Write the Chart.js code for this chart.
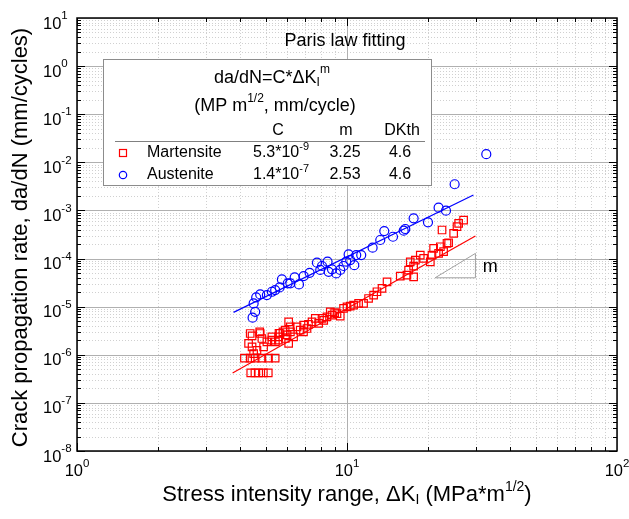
<!DOCTYPE html>
<html><head><meta charset="utf-8">
<script src="https://cdn.jsdelivr.net/npm/chart.js@4.4.0/dist/chart.umd.min.js"></script>
<style>html,body{margin:0;padding:0;background:#fff}</style>
</head><body>
<canvas id="c" width="629" height="519"></canvas>
<script>
// ---- data ----
const martensiteK = [4.40,4.56,4.71,4.90,5.11, 4.17,4.38,4.57,4.84,5.12,5.42,
  4.45,4.75,4.45,4.64,4.91,5.05,5.27,5.43,5.58,5.79,5.91,6.08,6.17,6.34,6.53,6.71,6.91,7.11,
  7.42,7.63,7.85,8.08,8.43,8.67,8.80,9.18,9.44,9.71,10.0,10.28,10.58,11.04,11.52,12.02,12.55,
  12.91,13.48,14.07,15.75,16.67,17.65,16.91,17.15,17.65,17.91,18.68,19.22,20.35,20.64,20.93,
  21.84,22.17,22.79,23.46,23.79,22.49,24.83,25.55,25.91,27.03, 4.32,4.51,4.84,5.6,6.0,6.9,7.2,8.2,9.0,
  4.38,4.77,5.27,5.57,5.65,5.90,6.16,6.08];
const martensiteRate = [4.2e-7,4.2e-7,4.2e-7,4.2e-7,4.2e-7, 8.5e-7,8.5e-7,8.5e-7,8.5e-7,8.5e-7,8.5e-7,
  2.47e-6,2.99e-6,1.46e-6,1.24e-6,1.46e-6,1.85e-6,2.36e-6,1.85e-6,2.36e-6,2.99e-6,2.18e-6,1.72e-6,2.99e-6,2.36e-6,3.80e-6,3.25e-6,4.13e-6,3.52e-6,
  4.83e-6,5.69e-6,4.48e-6,5.69e-6,6.15e-6,7.8e-6,6.67e-6,7.2e-6,6.35e-6,9.2e-6,9.9e-6,1.03e-5,1.08e-5,1.17e-5,1.17e-5,1.48e-5,1.74e-5,
  2.04e-5,2.40e-5,3.29e-5,4.32e-5,4.54e-5,4.18e-5,5.77e-5,8.57e-5,6.98e-5,9.3e-5,1.18e-4,1.01e-4,8.57e-5,1.18e-4,1.63e-4,
  1.28e-4,1.76e-4,1.39e-4,2.07e-4,2.13e-4,3.92e-4,3.35e-4,4.59e-4,5.4e-4,6.3e-4, 1.72e-6,1.06e-6,2.18e-6,2.8e-6,2.6e-6,3.0e-6,4.3e-6,5.2e-6,7.5e-6,
  2.77e-6,2.77e-6,2.02e-6,2.02e-6,2.77e-6,3.25e-6,3.8e-6,4.83e-6];
const austeniteK = [4.47,4.57,4.51,4.61,4.77,5.05,5.27,5.42,5.63,5.74,6.03,6.17,6.40,6.64,6.91,7.27,
  7.74,7.96,8.08,8.47,8.55,8.80,9.12,9.44,9.71,9.94,10.14,10.28,10.64,10.82,11.29,12.44,13.28,13.74,
  14.80,16.22,16.44,17.65,19.95,21.84,23.26,25.04,32.8];
const austeniteRate = [5.9e-6,7.8e-6,1.17e-5,1.56e-5,1.80e-5,1.74e-5,2.04e-5,2.21e-5,2.51e-5,3.69e-5,3.05e-5,3.05e-5,4.06e-5,2.90e-5,4.32e-5,5.06e-5,
  8.2e-5,5.8e-5,7.0e-5,8.6e-5,5.3e-5,5.96e-5,4.92e-5,5.8e-5,7.0e-5,8.6e-5,1.22e-4,9.3e-5,7.3e-5,1.18e-4,1.18e-4,1.68e-4,2.43e-4,3.73e-4,
  2.84e-4,3.79e-4,4.11e-4,6.87e-4,5.67e-4,1.14e-3,9.9e-4,3.5e-3,1.48e-2];
const martensiteFitK = [3.77, 29.9];
const martensiteFitRate = [4.2e-7, 2.94e-4];
const austeniteFitK = [3.80, 29.4];
const austeniteFitRate = [7.6e-6, 2.1e-3];
const slopeTriK = [21.2, 29.9, 29.9, 21.2];
const slopeTriRate = [3.98e-5, 3.98e-5, 1.28e-4, 3.98e-5];
const slopeLabelK = 33.9, slopeLabelRate = 6.75e-5;
const xTickExponents = [0, 1, 2];
const yTickExponents = [-8, -7, -6, -5, -4, -3, -2, -1, 0, 1];
const seriesNames = ['Martensite', 'Austenite'];
const fitC = [['5.3*10', '-9'], ['1.4*10', '-7']];
const fitM = ['3.25', '2.53'];
const fitDKth = ['4.6', '4.6'];

const FONT = '"Liberation Sans", Arial, sans-serif';
const RED = '#ff0000', BLUE = '#0000ff';
const zip = (a, b) => a.map((v, i) => ({x: v, y: b[i]}));

function drawRich(ctx, segs, x, y, align) {
  let w = 0;
  segs.forEach(s => { ctx.font = s[1] + 'px ' + FONT; w += ctx.measureText(s[0]).width; });
  let cx = align === 'center' ? x - w / 2 : (align === 'right' ? x - w : x);
  ctx.textAlign = 'left'; ctx.textBaseline = 'middle';
  segs.forEach(s => {
    ctx.font = s[1] + 'px ' + FONT;
    ctx.fillText(s[0], cx, y + (s[2] || 0));
    cx += ctx.measureText(s[0]).width;
  });
}

const decor = {
  id: 'decor',
  beforeDatasetsDraw(chart) {
    const ctx = chart.ctx, a = chart.chartArea, xs = chart.scales.x, ys = chart.scales.y;
    ctx.save();
    ctx.strokeStyle = '#d0d0d0'; ctx.lineWidth = 1; ctx.setLineDash([1, 2]);
    for (let e = 0; e < 2; e++) for (let k = 2; k <= 9; k++) {
      const px = Math.round(xs.getPixelForValue(k * Math.pow(10, e))) + 0.5;
      ctx.beginPath(); ctx.moveTo(px, a.top); ctx.lineTo(px, a.bottom); ctx.stroke();
    }
    for (let e = -8; e < 1; e++) for (let k = 2; k <= 9; k++) {
      const py = Math.round(ys.getPixelForValue(k * Math.pow(10, e))) + 0.5;
      ctx.beginPath(); ctx.moveTo(a.left, py); ctx.lineTo(a.right, py); ctx.stroke();
    }
    ctx.setLineDash([]); ctx.strokeStyle = '#b0b0b0';
    xTickExponents.forEach(e => {
      const px = Math.round(xs.getPixelForValue(Math.pow(10, e))) + 0.5;
      ctx.beginPath(); ctx.moveTo(px, a.top); ctx.lineTo(px, a.bottom); ctx.stroke();
    });
    yTickExponents.forEach(e => {
      const py = Math.round(ys.getPixelForValue(Math.pow(10, e))) + 0.5;
      ctx.beginPath(); ctx.moveTo(a.left, py); ctx.lineTo(a.right, py); ctx.stroke();
    });
    ctx.restore();
  },
  afterDatasetsDraw(chart) {
    const ctx = chart.ctx, a = chart.chartArea, xs = chart.scales.x, ys = chart.scales.y;
    ctx.save();
    ctx.strokeStyle = '#000'; ctx.lineWidth = 1.5;
    ctx.strokeRect(a.left, a.top, a.right - a.left, a.bottom - a.top);
    ctx.lineWidth = 1;
    const tick = (x1, y1, x2, y2) => { ctx.beginPath(); ctx.moveTo(x1, y1); ctx.lineTo(x2, y2); ctx.stroke(); };
    for (let e = 0; e < 2; e++) for (let k = 1; k <= 9; k++) {
      const px = Math.round(xs.getPixelForValue(k * Math.pow(10, e))) + 0.5;
      const L = k === 1 ? 8 : 4;
      tick(px, a.bottom, px, a.bottom - L); tick(px, a.top, px, a.top + L);
    }
    for (let e = -8; e < 1; e++) for (let k = 1; k <= 9; k++) {
      const py = Math.round(ys.getPixelForValue(k * Math.pow(10, e))) + 0.5;
      const L = k === 1 ? 8 : 4;
      tick(a.left, py, a.left + L, py); tick(a.right, py, a.right - L, py);
    }
    ctx.fillStyle = '#000';
    xTickExponents.forEach(e => {
      const px = xs.getPixelForValue(Math.pow(10, e));
      drawRich(ctx, [['10', 16.5, 0], [String(e), 11.5, -7]], px, a.bottom + 20, 'center');
    });
    yTickExponents.forEach(e => {
      const py = ys.getPixelForValue(Math.pow(10, e));
      drawRich(ctx, [['10', 16.5, 6], [String(e), 11.5, -2]], 43, py, 'left');
    });
    drawRich(ctx, [['Stress intensity range, \u0394K', 22, 0], ['I', 14, 5], [' (MPa*m', 22, 0], ['1/2', 14, -8], [')', 22, 0]],
      (a.left + a.right) / 2, 495, 'center');
    ctx.save();
    ctx.translate(21, (a.top + a.bottom) / 2 + 3); ctx.rotate(-Math.PI / 2);
    drawRich(ctx, [['Crack propagation rate, da/dN (mm/cycles)', 22, 0]], 0, 0, 'center');
    ctx.restore();
    drawRich(ctx, [['Paris law fitting', 18, 0]], 345, 41, 'center');
    drawRich(ctx, [['m', 18, 0]], xs.getPixelForValue(slopeLabelK), ys.getPixelForValue(slopeLabelRate), 'center');
    const bx = 103.5, by = 59.5, bw = 328, bh = 126;
    ctx.fillStyle = '#fff'; ctx.fillRect(bx, by, bw, bh);
    ctx.strokeStyle = '#8c8c8c'; ctx.lineWidth = 1; ctx.strokeRect(bx, by, bw, bh);
    ctx.fillStyle = '#000';
    drawRich(ctx, [['da/dN=C*\u0394K', 18, 0], ['I', 12, 5], ['m', 12, -8]], 272, 78, 'center');
    drawRich(ctx, [['(MP m', 18, 0], ['1/2', 12, -7], [', mm/cycle)', 18, 0]], 275, 106, 'center');
    drawRich(ctx, [['C', 16, 0]], 278, 131, 'center');
    drawRich(ctx, [['m', 16, 0]], 346, 131, 'center');
    drawRich(ctx, [['DKth', 16, 0]], 402, 131, 'center');
    ctx.strokeStyle = '#808080'; ctx.beginPath(); ctx.moveTo(115, 141.5); ctx.lineTo(425, 141.5); ctx.stroke();
    const rowsY = [153, 175];
    rowsY.forEach((ry, i) => {
      ctx.lineWidth = 1.2;
      if (i === 0) { ctx.strokeStyle = RED; ctx.strokeRect(119.5, ry - 3.5, 7, 7); }
      else { ctx.strokeStyle = BLUE; ctx.beginPath(); ctx.arc(123, ry, 3.7, 0, Math.PI * 2); ctx.stroke(); }
      ctx.fillStyle = '#000';
      drawRich(ctx, [[seriesNames[i], 16, 0]], 147, ry, 'left');
      drawRich(ctx, [[fitC[i][0], 16, 0], [fitC[i][1], 11, -6]], 281, ry, 'center');
      drawRich(ctx, [[fitM[i], 16, 0]], 345, ry, 'center');
      drawRich(ctx, [[fitDKth[i], 16, 0]], 400, ry, 'center');
    });
    ctx.restore();
  }
};

new Chart(document.getElementById('c'), {
  type: 'scatter',
  data: {
    datasets: [
      {label: 'Martensite', data: zip(martensiteK, martensiteRate), pointStyle: 'rect', radius: 5.3,
        borderColor: RED, backgroundColor: 'rgba(0,0,0,0)', borderWidth: 1.2},
      {label: 'Austenite', data: zip(austeniteK, austeniteRate), pointStyle: 'circle', radius: 4.5,
        borderColor: BLUE, backgroundColor: 'rgba(0,0,0,0)', borderWidth: 1.2},
      {label: 'fitM', data: zip(martensiteFitK, martensiteFitRate), showLine: true, pointRadius: 0,
        borderColor: RED, borderWidth: 1.2},
      {label: 'fitA', data: zip(austeniteFitK, austeniteFitRate), showLine: true, pointRadius: 0,
        borderColor: BLUE, borderWidth: 1.2},
      {label: 'slope', data: zip(slopeTriK, slopeTriRate), showLine: true, pointRadius: 0,
        borderColor: '#a0a0a0', borderWidth: 1}
    ]
  },
  options: {
    responsive: false, devicePixelRatio: 1, animation: false,
    layout: {padding: {left: 77, top: 18, right: 12, bottom: 68}},
    plugins: {legend: {display: false}, tooltip: {enabled: false}},
    scales: {
      x: {type: 'logarithmic', min: 1, max: 100, display: false},
      y: {type: 'logarithmic', min: 1e-8, max: 10, display: false}
    }
  },
  plugins: [decor]
});
</script>
</body></html>
